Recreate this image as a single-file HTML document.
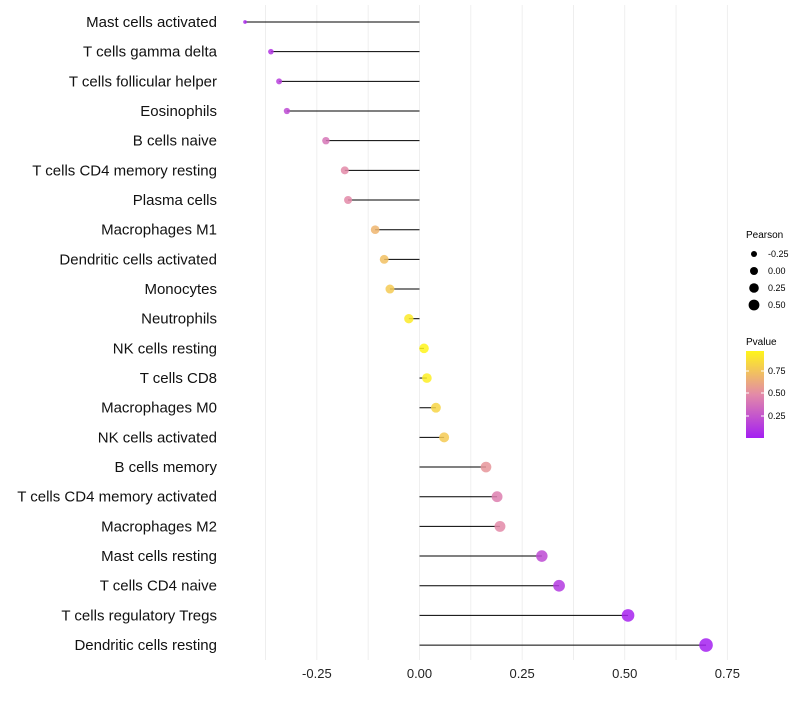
<!DOCTYPE html>
<html><head><meta charset="utf-8"><style>
body{margin:0;background:#fff;font-family:"Liberation Sans",sans-serif}
</style></head><body>
<svg id="chart" width="800" height="700" xmlns="http://www.w3.org/2000/svg">
<defs><linearGradient id="pg" x1="0" y1="1" x2="0" y2="0">
<stop offset="0" stop-color="#a41ff2"/><stop offset="0.5" stop-color="#e38aa8"/><stop offset="1" stop-color="#fff51a"/>
</linearGradient></defs>
<g id="grid"></g><g id="marks"></g><g id="labels"></g><g id="xaxis"></g>
<g font-size="9">
<text x="746" y="238" font-size="10">Pearson</text>
<circle cx="754" cy="254" r="3" fill="#000"/><text x="768" y="257">-0.25</text>
<circle cx="754" cy="271" r="4" fill="#000"/><text x="768" y="274">0.00</text>
<circle cx="754" cy="288" r="4.8" fill="#000"/><text x="768" y="291">0.25</text>
<circle cx="754" cy="305" r="5.4" fill="#000"/><text x="768" y="308">0.50</text>
</g>
<g font-size="9">
<text x="746" y="345" font-size="10">Pvalue</text>
<rect x="746" y="351" width="18" height="87" fill="url(#pg)"/>
<line x1="746" y1="371" x2="749" y2="371" stroke="#fff"/><line x1="761" y1="371" x2="764" y2="371" stroke="#fff"/>
<line x1="746" y1="393" x2="749" y2="393" stroke="#fff"/><line x1="761" y1="393" x2="764" y2="393" stroke="#fff"/>
<line x1="746" y1="416" x2="749" y2="416" stroke="#fff"/><line x1="761" y1="416" x2="764" y2="416" stroke="#fff"/>
<text x="768" y="374">0.75</text><text x="768" y="396">0.50</text><text x="768" y="419">0.25</text>
</g>
</svg>
<script>
const categories=["Mast cells activated","T cells gamma delta","T cells follicular helper","Eosinophils","B cells naive","T cells CD4 memory resting","Plasma cells","Macrophages M1","Dendritic cells activated","Monocytes","Neutrophils","NK cells resting","T cells CD8","Macrophages M0","NK cells activated","B cells memory","T cells CD4 memory activated","Macrophages M2","Mast cells resting","T cells CD4 naive","T cells regulatory  Tregs","Dendritic cells resting"];
const pearson=[-0.425,-0.362,-0.342,-0.323,-0.228,-0.182,-0.174,-0.108,-0.086,-0.072,-0.026,0.011,0.018,0.040,0.060,0.162,0.189,0.196,0.298,0.340,0.508,0.698];
const pvalue=[0.05,0.1,0.15,0.2,0.4,0.5,0.5,0.7,0.75,0.8,0.95,1.0,0.97,0.85,0.8,0.55,0.45,0.5,0.2,0.12,0.02,0.01];
const xTicks=[-0.25,0,0.25,0.5,0.75];
const xTickLabels=["-0.25","0.00","0.25","0.50","0.75"];
const NS="http://www.w3.org/2000/svg";
const xs=v=>419.5+v*410.5;
const ys=i=>22+i*29.67;
const rs=v=>1.5+5.3*Math.sqrt(Math.max(0,(v+0.43)/1.13));
function col(p){const st=[[0,[164,31,242]],[0.5,[227,138,168]],[1,[255,245,26]]];p=Math.max(0,Math.min(1,p));
let a=p<=0.5?st[0]:st[1],b=p<=0.5?st[1]:st[2];const t=(p-a[0])/(b[0]-a[0]);
return "rgb("+a[1].map((c,k)=>Math.round(c+(b[1][k]-c)*t)).join(",")+")";}
function mk(tag,at,par){const e=document.createElementNS(NS,tag);for(const k in at)e.setAttribute(k,at[k]);document.getElementById(par).appendChild(e);return e;}
for(let v=-0.375;v<=0.76;v+=0.125){const g=mk("line",{x1:xs(v),x2:xs(v),y1:5,y2:660,stroke:"#ebebeb","stroke-width":0.8},"grid");

}
xTicks.forEach((t,i)=>{const e=mk("text",{x:xs(t),y:678,"text-anchor":"middle","font-size":13,fill:"#222"},"xaxis");e.textContent=xTickLabels[i];

});
categories.forEach((c,i)=>{const y=ys(i);
const t=mk("text",{x:217,y:y+5,"text-anchor":"end","font-size":15,fill:"#111"},"labels");t.textContent=c;


const l=mk("line",{x1:xs(0),x2:xs(pearson[i]),y1:y,y2:y,stroke:"#000","stroke-width":1},"marks");


const p=mk("circle",{cx:xs(pearson[i]),cy:y,r:rs(pearson[i]),fill:col(pvalue[i]),"fill-opacity":0.85},"marks");

});
</script>
</body></html>
